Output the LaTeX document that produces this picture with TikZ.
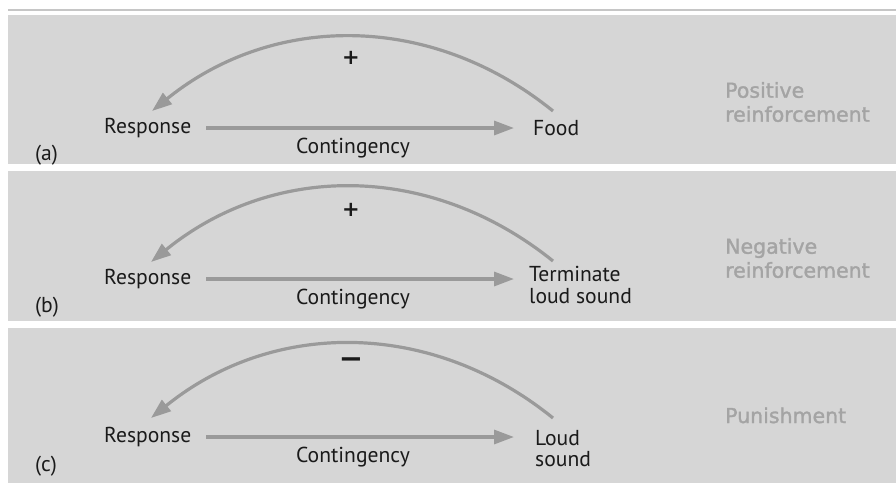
\documentclass[tikz,border=0pt]{standalone}
\usepackage{fontspec}
\setmainfont{PT Sans}
\newfontfamily\capfont[FakeBold=1.5]{DejaVu Sans}
\newfontfamily\signfont{DejaVu Sans}
\usetikzlibrary{arrows.meta}

\definecolor{panelgrey}{HTML}{D6D6D6}
\definecolor{rulegrey}{HTML}{C6C6C6}
\definecolor{arrowgrey}{HTML}{9A9A9A}
\definecolor{captiongrey}{HTML}{A4A4A4}
\definecolor{ink}{HTML}{1A1A1A}

\tikzset{
  panel/.style={fill=panelgrey, draw=none},
  flow/.style={draw=arrowgrey, line width=3.2pt,
    -{Triangle[length=20pt,width=14pt,fill=arrowgrey]}},
  term/.style={font=\fontsize{21.6}{21.4}\selectfont, text=ink,
    inner sep=0pt, align=left, anchor=west},
  tag/.style={font=\fontsize{21.6}{21.4}\selectfont, text=ink,
    inner sep=0pt, anchor=base west},
  caption/.style={font=\capfont\fontsize{20.5}{24}\selectfont,
    text=captiongrey, inner sep=0pt, align=left, anchor=base west},
  plussign/.style={font=\signfont\bfseries\fontsize{21}{21}\selectfont, text=ink, inner sep=0pt},
  minussign/.style={font=\signfont\bfseries\fontsize{29}{29}\selectfont, text=ink, inner sep=0pt}
}

\begin{document}
\begin{tikzpicture}[x=1pt,y=-1pt]
  \useasboundingbox (0,0) rectangle (896,483);
  \fill[white] (0,0) rectangle (896,483);

  % rule above the panels
  \draw[rulegrey, line width=2pt] (8,10) -- (896,10);

  % the three panels
  \fill[panel] (8,15) rectangle (896,164);
  \fill[panel] (8,171) rectangle (896,321);
  \fill[panel] (8,328) rectangle (896,483);

  % ---------- (a) positive reinforcement ----------
  \node[term] (respA) at (104,128) {Response};
  \node[term] (foodA) at (533,128) {Food};
  \draw[flow, shorten <=15pt, shorten >=19pt] (respA.east) -- (foodA.west);
  \node[tag, anchor=base] (contA) at (353,153) {Contingency};
  \node[tag] (labA) at (35,160) {(a)};
  \coordinate (loopAs) at (553,111);
  \coordinate (loopAe) at (152,111);
  \draw[flow] (loopAs) to[bend right=39] (loopAe);
  \node[plussign] (signA) at (351,58) {+};
  \node[caption] (capA) at (725,121.7) {Positive\\reinforcement};

  % ---------- (b) negative reinforcement ----------
  \node[term] (respB) at (104,279) {Response};
  \node[term] (termB) at (529,285) {Terminate\\loud sound};
  \draw[flow, shorten <=15pt, shorten >=15pt] (respB.east) -- (respB.east -| termB.west);
  \node[tag, anchor=base] (contB) at (353,304) {Contingency};
  \node[tag] (labB) at (35,312) {(b)};
  \coordinate (loopBs) at (553,261);
  \coordinate (loopBe) at (151,262);
  \draw[flow] (loopBs) to[bend right=39] (loopBe);
  \node[plussign] (signB) at (351,210) {+};
  \node[caption] (capB) at (725,277.7) {Negative\\reinforcement};

  % ---------- (c) punishment ----------
  \node[term] (respC) at (104,437) {Response};
  \node[term] (termC) at (535,448.5) {Loud\\sound};
  \draw[flow, shorten <=15pt, shorten >=21pt] (respC.east) -- (respC.east -| termC.west);
  \node[tag, anchor=base] (contC) at (353,462) {Contingency};
  \node[tag] (labC) at (35,471) {(c)};
  \coordinate (loopCs) at (553,418);
  \coordinate (loopCe) at (151,418);
  \draw[flow] (loopCs) to[bend right=39] (loopCe);
  \node[minussign] (signC) at (351,363) {−};
  \node[caption] (capC) at (725,423) {Punishment};
\end{tikzpicture}
\end{document}
